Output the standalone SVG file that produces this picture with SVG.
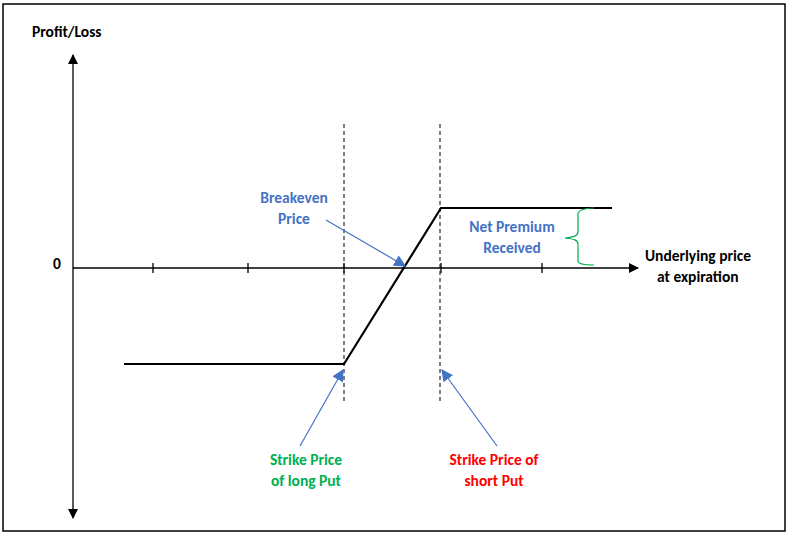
<svg xmlns="http://www.w3.org/2000/svg" width="792" height="537" viewBox="0 0 792 537">
<style>
text{font-family:Calibri,"Liberation Sans",sans-serif;font-weight:bold;font-size:15.5px}
.ax{stroke:#000;stroke-width:1.3;fill:none}
.dash{stroke:#000;stroke-width:1;stroke-dasharray:4,3}
.blue{stroke:#4472c4;stroke-width:1.2;fill:none}
</style>
<defs>
<marker id="ab" viewBox="0 0 10 10" refX="9" refY="5" markerWidth="10" markerHeight="10" markerUnits="userSpaceOnUse" orient="auto"><path d="M0,0L10,5L0,10z" fill="#000"/></marker>
<marker id="ab2" viewBox="0 0 10 10" refX="9" refY="5" markerWidth="12" markerHeight="12" markerUnits="userSpaceOnUse" orient="auto"><path d="M0,0L10,5L0,10z" fill="#4472c4"/></marker>
</defs>
<rect x="0" y="0" width="792" height="537" fill="#fff"/>
<rect x="3" y="4" width="782" height="527" fill="none" stroke="#000" stroke-width="1.5"/>
<g id="axes">
<line class="ax" x1="73" y1="150" x2="73" y2="55" marker-end="url(#ab)"/>
<line class="ax" x1="73" y1="150" x2="73" y2="518" marker-end="url(#ab)"/>
<line class="ax" x1="73" y1="268" x2="638" y2="268" marker-end="url(#ab)"/>
<path class="ax" d="M153,263v10M248,263v10M344,263v10M441,263v10M542,263v10"/>
<text x="32" y="37">Profit/Loss</text>
<text x="53" y="269">0</text>
<text x="645" y="261">Underlying price</text>
<text x="657" y="282">at expiration</text>
</g>
<g id="strikes">
<line class="dash" x1="344" y1="124" x2="344" y2="403"/>
<line class="dash" x1="440" y1="124" x2="440" y2="403"/>
</g>
<g id="payoff"><polyline points="124,364 344,364 441,208 612,208" fill="none" stroke="#000" stroke-width="2.2"/></g>
<g id="premium">
<path d="M594,208 C586,208 578,210 578,214 L578,232 C578,236 574,237 565,238 C574,239 578,240 578,244 L578,261 C578,264 586,265 594,265" fill="none" stroke="#00b050" stroke-width="1.2"/>
<text x="512" y="232" fill="#4472c4" text-anchor="middle">Net Premium</text>
<text x="512" y="253" fill="#4472c4" text-anchor="middle">Received</text>
</g>
<g id="connectors">
<line class="blue" x1="326" y1="220" x2="405" y2="266" marker-end="url(#ab2)"/>
<line class="blue" x1="300" y1="446" x2="343" y2="370" marker-end="url(#ab2)"/>
<line class="blue" x1="497" y1="446" x2="442" y2="370" marker-end="url(#ab2)"/>
</g>
<g id="breakeven">
<text x="294" y="203" fill="#4472c4" text-anchor="middle">Breakeven</text>
<text x="294" y="224" fill="#4472c4" text-anchor="middle">Price</text>
</g>
<g id="long">
<text x="306" y="465" fill="#00b050" text-anchor="middle">Strike Price</text>
<text x="306" y="486" fill="#00b050" text-anchor="middle">of long Put</text>
</g>
<g id="short">
<text x="494" y="465" fill="#ff0000" text-anchor="middle">Strike Price of</text>
<text x="494" y="486" fill="#ff0000" text-anchor="middle">short Put</text>
</g>
</svg>
